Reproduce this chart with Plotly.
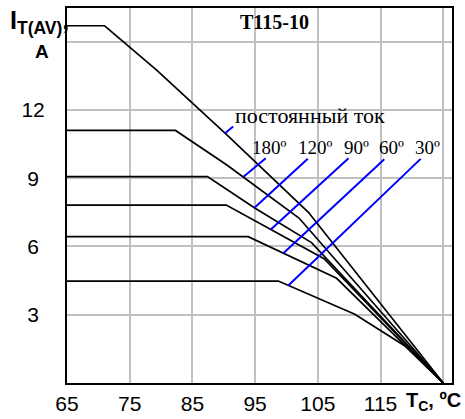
import numpy as np
import plotly.graph_objects as go

# ---- data ----
T_DC = [65, 71, 79.3, 90.5, 103.5, 125]
I_DC = [15.7, 15.7, 13.75, 10.9, 7.5, 0]
T_180 = [65, 82.3, 90.5, 102, 125]
I_180 = [11.1, 11.1, 9.58, 7.25, 0]
T_120 = [65, 87.4, 95, 104, 125]
I_120 = [9.07, 9.07, 7.68, 6.17, 0]
T_90 = [65, 90.4, 106, 125]
I_90 = [7.82, 7.82, 5.46, 0]
T_60 = [65, 93.9, 108, 125]
I_60 = [6.43, 6.43, 4.6, 0]
T_30 = [65, 98.7, 110.9, 118.9, 125]
I_30 = [4.48, 4.48, 3.02, 1.63, 0]

curves = [(T_DC, I_DC), (T_180, I_180), (T_120, I_120), (T_90, I_90), (T_60, I_60), (T_30, I_30)]

# leader lines: anchor temperature on each curve, and the free end
LEAD_T0 = [90.2, 93.1, 94.9, 97.5, 99.5, 100.3]
LEAD_T1 = [91.5, 96.7, 103.4, 109.9, 115.6, 121.4]
LEAD_I1 = [11.27, 9.88, 9.85, 9.88, 9.83, 9.85]

ANGLE_LABELS = ["180º", "120º", "90º", "60º", "30º"]
ANGLE_T = [94.2, 101.5, 108.8, 114.4, 120.1]
ANGLE_I = 10.33

X_TICKS = [65, 75, 85, 95, 105, 115, 125]
X_TEXT = ["65", "75", "85", "95", "105", "115", ""]
Y_TICKS = [0, 3, 6, 9, 12, 15]
Y_TEXT = ["", "3\u00a0", "6\u00a0", "9\u00a0", "12", ""]
X_RANGE = [65, 126.4]
Y_RANGE = [0, 16.48]

SERIF = "Liberation Serif, Times New Roman, serif"
SANS = "Liberation Sans, Arial, sans-serif"
GRID = "#c0c0c0"

fig = go.Figure()

for t, i in curves:
    fig.add_trace(go.Scatter(x=t, y=i, mode="lines",
                             line=dict(color="black", width=1.7),
                             hoverinfo="skip", showlegend=False))

for k, (t, i) in enumerate(curves):
    t0 = LEAD_T0[k]
    i0 = float(np.interp(t0, t, i))
    fig.add_trace(go.Scatter(x=[t0, LEAD_T1[k]], y=[i0, LEAD_I1[k]], mode="lines",
                             line=dict(color="#0000ff", width=2),
                             hoverinfo="skip", showlegend=False))

ann = []
ann.append(dict(x=0.5377, y=0.9627, xref="paper", yref="paper", text="<b>T115-10</b>",
                showarrow=False, font=dict(family=SERIF, size=20, color="black"),
                xanchor="center", yanchor="middle"))
ann.append(dict(x=91.5, y=11.74, xref="x", yref="y", text="постоянный ток",
                showarrow=False, font=dict(family=SERIF, size=22, color="black"),
                xanchor="left", yanchor="middle"))
for lab, tx in zip(ANGLE_LABELS, ANGLE_T):
    ann.append(dict(x=tx, y=ANGLE_I, xref="x", yref="y", text=lab,
                    showarrow=False, font=dict(family=SERIF, size=19, color="black"),
                    xanchor="left", yanchor="middle"))
ann.append(dict(x=-0.153, y=1.01, xref="paper", yref="paper",
                text="<b>I<sub>T(AV)</sub>,</b>", showarrow=False,
                font=dict(family=SANS, size=25, color="black"),
                xanchor="left", yanchor="top"))
ann.append(dict(x=-0.065, y=0.885, xref="paper", yref="paper", text="<b>A</b>",
                showarrow=False, font=dict(family=SANS, size=19, color="black"),
                xanchor="center", yanchor="middle"))
ann.append(dict(x=1.0286, y=-0.05, xref="paper", yref="paper",
                text="<b>T<sub>C</sub>, ºC</b>", showarrow=False,
                font=dict(family=SANS, size=20, color="black"),
                xanchor="right", yanchor="middle"))

fig.update_layout(
    width=465, height=419, autosize=False,
    margin=dict(l=67, r=13, t=8, b=36),
    paper_bgcolor="white", plot_bgcolor="white",
    annotations=ann,
)
fig.update_xaxes(range=X_RANGE, tickvals=X_TICKS, ticktext=X_TEXT,
                 showgrid=True, gridcolor=GRID, gridwidth=2,
                 showline=True, mirror=True, linecolor="black", linewidth=2,
                 ticks="", ticklabelstandoff=1, zeroline=False, automargin=False,
                 tickfont=dict(family=SANS, size=21, color="black"))
fig.update_yaxes(range=Y_RANGE, tickvals=Y_TICKS, ticktext=Y_TEXT,
                 showgrid=True, gridcolor=GRID, gridwidth=2,
                 showline=True, mirror=True, linecolor="black", linewidth=2,
                 ticks="", ticklabelstandoff=16, zeroline=False, automargin=False,
                 tickfont=dict(family=SANS, size=21, color="black"))

fig.write_html("out.html")
